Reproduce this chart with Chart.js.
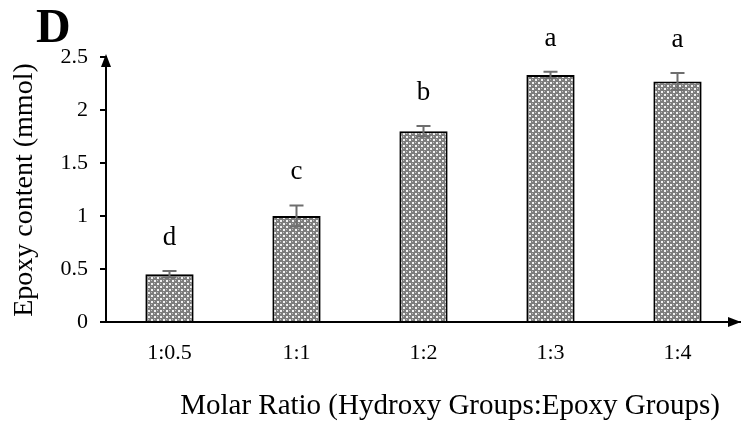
<!DOCTYPE html>
<html>
<head>
<meta charset="utf-8">
<script src="https://cdn.jsdelivr.net/npm/chart.js@4.4.1/dist/chart.umd.min.js"></script>
<style>
  html, body { margin: 0; padding: 0; background: #fff; }
  #wrap { width: 741px; height: 425px; position: relative; }
</style>
</head>
<body>
<div id="wrap"><canvas id="epoxyChart"></canvas></div>
<script>
const ratios = ['1:0.5', '1:1', '1:2', '1:3', '1:4']
const epoxyContent = [0.45, 1.0, 1.8, 2.33, 2.27]
const errors = [0.03, 0.1, 0.05, 0.03, 0.08]
const letters = ['d', 'c', 'b', 'a', 'a']
const yTicks = [0, 0.5, 1, 1.5, 2, 2.5]

const serif = '"Liberation Serif", "Times New Roman", serif'

// crosshatch fill like the excel pattern
function makePattern() {
    const c = document.createElement('canvas')
    c.width = 6
    c.height = 6
    const g = c.getContext('2d')
    g.fillStyle = '#7d7d7d'
    g.fillRect(0, 0, 6, 6)
    g.fillStyle = '#f2f2f2'
    g.fillRect(1, 1, 2, 2)
    g.fillRect(4, 4, 2, 2)
    g.fillStyle = '#bdbdbd'
    g.fillRect(4, 1, 1, 1)
    g.fillRect(1, 4, 1, 1)
    return g.createPattern(c, 'repeat')
}

const extrasPlugin = {
    id: 'extras',
    afterDatasetsDraw(chart) {
        const c = chart.ctx
        const x = chart.scales.x
        const y = chart.scales.y
        const area = chart.chartArea

        // error bars
        c.save()
        c.strokeStyle = '#6e6e6e'
        c.lineWidth = 2
        epoxyContent.forEach((v, i) => {
            const cx = x.getPixelForValue(i)
            const top = y.getPixelForValue(v + errors[i])
            const bot = y.getPixelForValue(v - errors[i])
            c.beginPath()
            c.moveTo(cx, top); c.lineTo(cx, bot)
            c.moveTo(cx - 7, top); c.lineTo(cx + 7, top)
            c.moveTo(cx - 7, bot); c.lineTo(cx + 7, bot)
            c.stroke()
        })
        c.restore()

        // significance letters
        c.save()
        c.fillStyle = '#000'
        c.font = '27px ' + serif
        c.textAlign = 'center'
        c.textBaseline = 'middle'
        epoxyContent.forEach((v, i) => {
            const cx = x.getPixelForValue(i)
            const top = y.getPixelForValue(v + errors[i])
            c.fillText(letters[i], cx, top - 33)
        })
        c.restore()

        // axis arrows
        c.save()
        c.fillStyle = '#000'
        c.beginPath()
        c.moveTo(area.left, area.top - 3)
        c.lineTo(area.left - 5, area.top + 10)
        c.lineTo(area.left + 5, area.top + 10)
        c.closePath()
        c.fill()
        c.beginPath()
        c.moveTo(area.right, area.bottom)
        c.lineTo(area.right - 13, area.bottom - 5)
        c.lineTo(area.right - 13, area.bottom + 5)
        c.closePath()
        c.fill()
        c.restore()

        // panel letter and titles
        c.save()
        c.fillStyle = '#000'
        c.font = 'bold 48px ' + serif
        c.textAlign = 'left'
        c.textBaseline = 'alphabetic'
        c.fillText('D', 36, 42)
        c.font = '29px ' + serif
        c.textAlign = 'center'
        c.textBaseline = 'middle'
        c.fillText('Molar Ratio (Hydroxy Groups:Epoxy Groups)', 450, 406)
        c.font = '28px ' + serif
        c.translate(25, 190)
        c.rotate(-Math.PI / 2)
        c.fillText('Epoxy content (mmol)', 0, 0)
        c.restore()
    }
}

new Chart(document.getElementById('epoxyChart'), {
    type: 'bar',
    data: {
        labels: ratios,
        datasets: [{
            data: epoxyContent,
            backgroundColor: makePattern(),
            borderColor: '#000',
            borderWidth: 2,
            borderSkipped: 'bottom',
            categoryPercentage: 1,
            barPercentage: 0.38
        }]
    },
    options: {
        responsive: true,
        maintainAspectRatio: false,
        animation: false,
        layout: { padding: { top: 57, right: 0, bottom: 0, left: 0 } },
        plugins: {
            legend: { display: false },
            tooltip: { enabled: false }
        },
        scales: {
            x: {
                grid: { display: false },
                border: { display: true, color: '#000', width: 2 },
                ticks: {
                    color: '#000',
                    padding: 10,
                    font: { family: serif, size: 22 }
                },
                afterFit(scale) { scale.height = 103 }
            },
            y: {
                min: 0,
                max: 2.5,
                afterBuildTicks(scale) {
                    scale.ticks = yTicks.map(v => ({ value: v }))
                },
                grid: {
                    drawOnChartArea: false,
                    drawTicks: true,
                    tickLength: 6,
                    color: '#000',
                    lineWidth: 2
                },
                border: { display: true, color: '#000', width: 2 },
                ticks: {
                    color: '#000',
                    padding: 12,
                    font: { family: serif, size: 22 },
                    callback: v => String(v)
                },
                afterFit(scale) { scale.width = 106 }
            }
        }
    },
    plugins: [extrasPlugin]
})
</script>
</body>
</html>
